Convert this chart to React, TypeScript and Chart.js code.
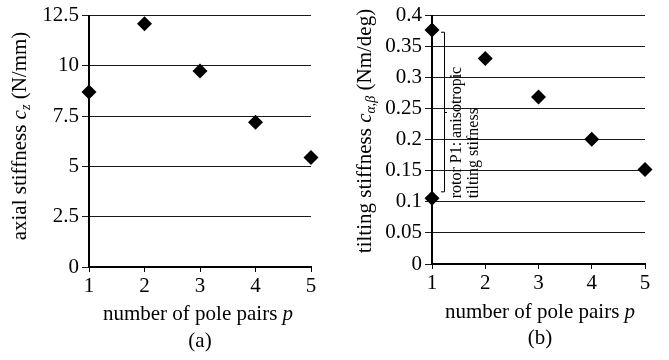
import React, { useEffect, useRef } from "react";
import { Chart, registerables } from "chart.js";

Chart.register(...registerables);

// ---- data ----
const polePairs = [1, 2, 3, 4, 5];
const axialStiffness = [8.7, 12.1, 9.75, 7.2, 5.45];
const tiltingStiffness = [0.377, 0.331, 0.269, 0.201, 0.152];
const tiltingP1Low = 0.106; // second (anisotropic) value of rotor P1
const axialTicks = [0, 2.5, 5, 7.5, 10, 12.5];
const tiltingTicks = [0, 0.05, 0.1, 0.15, 0.2, 0.25, 0.3, 0.35, 0.4];
const bracketRange = [0.374, 0.117];
const annotationLines = ["rotor P1: anisotropic", "tilting stifness"];

const FONT = "'Liberation Serif', 'Times New Roman', serif";
const FS = 21;

type Seg = { t: string; it?: boolean; sub?: boolean };

function drawRich(ctx: CanvasRenderingContext2D, segs: Seg[], cx: number, cy: number, size: number, rotate: boolean) {
  ctx.save();
  ctx.translate(cx, cy);
  if (rotate) ctx.rotate(-Math.PI / 2);
  ctx.fillStyle = "#000";
  ctx.textBaseline = "middle";
  ctx.textAlign = "left";
  const fontFor = (s: Seg) => `${s.it ? "italic " : ""}${s.sub ? Math.round(size * 0.68) : size}px ${FONT}`;
  let total = 0;
  for (const s of segs) {
    ctx.font = fontFor(s);
    total += ctx.measureText(s.t).width;
  }
  let x = -total / 2;
  for (const s of segs) {
    ctx.font = fontFor(s);
    ctx.fillText(s.t, x, s.sub ? size * 0.3 : 0);
    x += ctx.measureText(s.t).width;
  }
  ctx.restore();
}

function makeTextPlugin(opts: {
  yTitle: Seg[];
  yTitlePos: [number, number];
  xTitlePos: [number, number];
  label: string;
  labelPos: [number, number];
  annotate?: boolean;
}) {
  return {
    id: "richText",
    afterDraw(chart: any) {
      const ctx = chart.ctx as CanvasRenderingContext2D;
      drawRich(ctx, opts.yTitle, opts.yTitlePos[0], opts.yTitlePos[1], FS, true);
      drawRich(
        ctx,
        [{ t: "number of pole pairs " }, { t: "p", it: true }],
        opts.xTitlePos[0],
        opts.xTitlePos[1],
        FS,
        false
      );
      drawRich(ctx, [{ t: opts.label }], opts.labelPos[0], opts.labelPos[1], FS, false);
      if (opts.annotate) {
        const xs = chart.scales.x;
        const ys = chart.scales.y;
        const bx = xs.getPixelForValue(polePairs[0]) + 12;
        const top = ys.getPixelForValue(bracketRange[0]);
        const bot = ys.getPixelForValue(bracketRange[1]);
        ctx.save();
        ctx.strokeStyle = "#000";
        ctx.lineWidth = 1;
        ctx.beginPath();
        ctx.moveTo(bx - 3, top + 0.5);
        ctx.lineTo(bx + 0.5, top + 0.5);
        ctx.lineTo(bx + 0.5, bot + 0.5);
        ctx.lineTo(bx - 3, bot + 0.5);
        const mid = Math.round((top + bot) / 2) + 0.5;
        ctx.moveTo(bx + 0.5, mid);
        ctx.lineTo(bx + 3, mid);
        ctx.stroke();
        ctx.fillStyle = "#000";
        ctx.font = `16px ${FONT}`;
        ctx.textAlign = "left";
        ctx.textBaseline = "middle";
        annotationLines.forEach((line, i) => {
          ctx.save();
          ctx.translate(bx + 13 + i * 17, bot + 7);
          ctx.rotate(-Math.PI / 2);
          ctx.fillText(line, 0, 0);
          ctx.restore();
        });
        ctx.restore();
      }
    },
  };
}

function buildConfig(params: {
  data: { x: number; y: number }[];
  yMax: number;
  yTicks: number[];
  yWidth: number;
  xHeight: number;
  padTop: number;
  padRight: number;
  plugin: any;
}): any {
  return {
    type: "scatter",
    data: {
      datasets: [
        {
          data: params.data,
          pointStyle: "rectRot",
          pointRadius: 7.5,
          pointHoverRadius: 7.5,
          backgroundColor: "#000",
          borderColor: "#000",
          borderWidth: 0,
          showLine: false,
          clip: false,
        },
      ],
    },
    options: {
      animation: false,
      responsive: false,
      events: [],
      layout: { autoPadding: false, padding: { top: params.padTop, right: params.padRight, left: 0, bottom: 0 } },
      plugins: { legend: { display: false }, tooltip: { enabled: false } },
      scales: {
        x: {
          type: "linear",
          min: polePairs[0],
          max: polePairs[polePairs.length - 1],
          afterBuildTicks: (s: any) => {
            s.ticks = polePairs.map((v) => ({ value: v }));
          },
          afterFit: (s: any) => {
            s.height = params.xHeight;
          },
          border: { display: true, color: "#000", width: 2 },
          grid: { drawOnChartArea: false, drawTicks: true, tickLength: 5, color: "#000", lineWidth: 1 },
          ticks: { color: "#000", font: { family: FONT, size: FS }, padding: 2, maxRotation: 0 },
        },
        y: {
          type: "linear",
          min: 0,
          max: params.yMax,
          afterBuildTicks: (s: any) => {
            s.ticks = params.yTicks.map((v) => ({ value: v }));
          },
          afterFit: (s: any) => {
            s.width = params.yWidth;
          },
          border: { display: true, color: "#000", width: 2 },
          grid: { drawOnChartArea: true, drawTicks: true, tickLength: 7, color: "#1a1a1a", lineWidth: 1 },
          ticks: {
            color: "#000",
            font: { family: FONT, size: FS },
            padding: 3,
            callback: (v: any) => String(v),
          },
        },
      },
    },
    plugins: [params.plugin],
  };
}

function ChartCanvas({ config, width, height, left }: { config: () => any; width: number; height: number; left: number }) {
  const ref = useRef<HTMLCanvasElement | null>(null);
  useEffect(() => {
    if (!ref.current) return;
    const chart = new Chart(ref.current, config());
    return () => chart.destroy();
  }, []);
  return (
    <canvas
      ref={ref}
      width={width}
      height={height}
      style={{ position: "absolute", left, top: 0, width, height }}
    />
  );
}

export default function App() {
  const leftCfg = () =>
    buildConfig({
      data: polePairs.map((p, i) => ({ x: p, y: axialStiffness[i] })),
      yMax: 12.5,
      yTicks: axialTicks,
      yWidth: 89,
      xHeight: 93,
      padTop: 12,
      padRight: 23,
      plugin: makeTextPlugin({
        yTitle: [
          { t: "axial stiffness " },
          { t: "c", it: true },
          { t: "z", it: true, sub: true },
          { t: " (N/mm)" },
        ],
        yTitlePos: [20, 136],
        xTitlePos: [198, 314],
        label: "(a)",
        labelPos: [200, 341],
      }),
    });
  const rightCfg = () =>
    buildConfig({
      data: [
        { x: polePairs[0], y: tiltingStiffness[0] },
        { x: polePairs[0], y: tiltingP1Low },
        ...polePairs.slice(1).map((p, i) => ({ x: p, y: tiltingStiffness[i + 1] })),
      ],
      yMax: 0.4,
      yTicks: tiltingTicks,
      yWidth: 98,
      xHeight: 96,
      padTop: 15,
      padRight: 24,
      plugin: makeTextPlugin({
        yTitle: [
          { t: "tilting stiffness " },
          { t: "c", it: true },
          { t: "α,β", it: true, sub: true },
          { t: " (Nm/deg)" },
        ],
        yTitlePos: [31, 131],
        xTitlePos: [206, 312],
        label: "(b)",
        labelPos: [206, 338],
        annotate: true,
      }),
    });
  return (
    <div style={{ position: "fixed", left: 0, top: 0, width: 669, height: 360, background: "#fff" }}>
      <ChartCanvas config={leftCfg} width={334} height={360} left={0} />
      <ChartCanvas config={rightCfg} width={335} height={360} left={334} />
    </div>
  );
}
